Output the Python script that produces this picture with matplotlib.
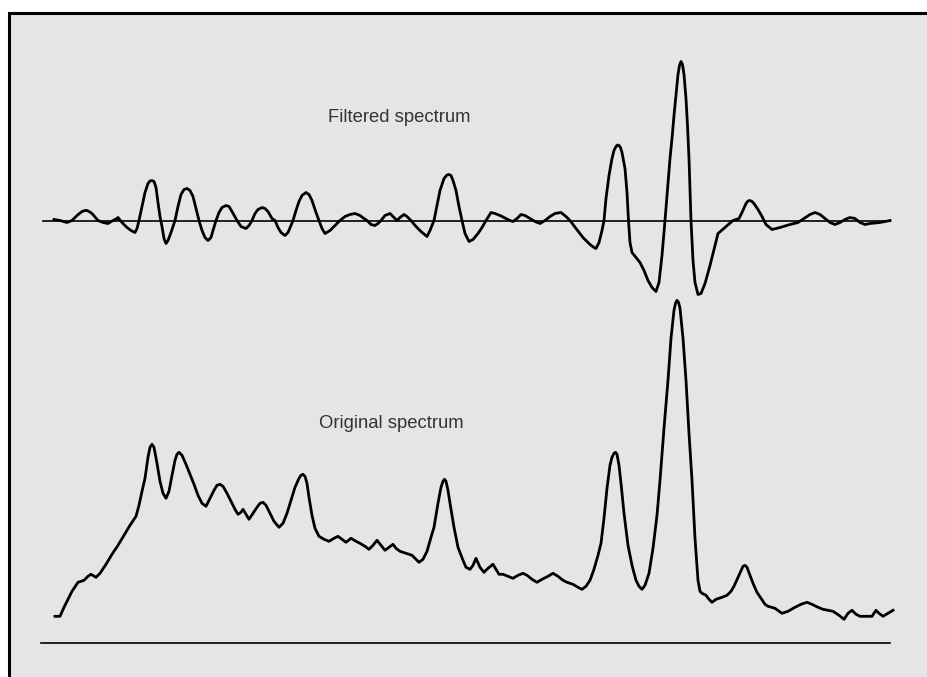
import matplotlib as mpl
mpl.use('agg')
import matplotlib.pyplot as plt
from matplotlib.patches import Rectangle

# spectra (channel, intensity relative to baseline)
filtered_x = [54, 60, 67, 72, 77, 82, 85, 87, 89, 92, 98, 103, 108, 113, 117, 118, 122, 127, 131, 135, 137, 139,
              142, 145, 148, 150, 152, 154, 156, 158, 160, 162, 164, 166, 168, 171, 175, 178, 181, 184, 187, 190, 193, 196,
              199, 202, 205, 208, 211, 213, 216, 219, 222, 226, 229, 232, 237, 241, 246, 249, 252, 255, 258, 262,
              265, 268, 272, 275, 278, 281, 285, 288, 291, 293, 296, 299, 302, 306, 309, 312, 316, 319, 322, 325,
              330, 335, 340, 345, 350, 355, 360, 364, 367, 371, 375, 378, 381, 385, 390, 393, 397, 400, 404, 407,
              411, 416, 421, 427, 430, 434, 437, 440, 444, 447, 449, 451, 453, 456, 459, 462, 465, 469, 473, 478, 482, 486,
              491, 495, 500, 506, 510, 513, 517, 521, 525, 530, 535, 540, 545, 550, 555, 561, 566, 570, 576, 583,
              590, 594, 596, 599, 602, 604, 606, 609, 612, 614, 616, 617.5, 619, 620.5, 622, 625, 627, 628.5, 630, 632, 636, 640, 644,
              648, 652, 656, 659, 662, 665, 668, 670, 672, 674, 676, 678, 679.5, 681, 682.5, 684, 686, 687.5, 689, 690, 691, 693,
              695, 698, 701, 705, 710, 714, 718, 726, 733, 739, 742, 746, 748, 750, 752, 754, 758, 762, 766, 772, 780, 790,
              798, 804, 810, 815, 820, 825, 830, 835, 840, 845, 850, 855, 860, 865, 870, 880, 890]
filtered_y = [1, 0, -2, 0, 5, 9, 10, 10, 9, 7, 0, -2, -3, 0, 2, 3, -2, -7, -10, -12, -8, 0,
              14, 28, 37, 39.5, 40, 39, 33, 18, 4, -6, -18, -23, -20, -12, 0, 14, 26, 31, 32, 30, 24, 12,
              0, -10, -17, -20, -17, -10, 0, 8, 13, 15, 14, 9, 0, -6, -8, -5, 0, 7, 11, 13,
              12, 9, 2, 0, -7, -12, -15, -12, -5, 0, 10, 19, 25, 28, 26, 20, 8, 0, -8, -13,
              -10, -5, 0, 4, 6, 7, 5, 2, 0, -4, -5, -3, 0, 5, 7, 4, 0, 3, 6, 4,
              0, -6, -11, -16, -10, 0, 15, 30, 42, 45.5, 46, 45, 40, 30, 14, 0, -13, -21, -19, -13, -7, 0,
              8, 7, 5, 2, 0, -1, 2, 6, 5, 2, -1, -3, 0, 4, 7, 8, 4, 0, -8, -17,
              -24, -27, -28, -22, -10, 0, 22, 45, 62, 70, 74, 75.5, 75, 73, 68, 52, 28, 0, -22, -32, -37, -42, -50,
              -60, -67, -71, -62, -35, 0, 38, 62, 82, 105, 125, 146, 155, 159, 156, 146, 122, 95, 62, 32, 0, -40,
              -62, -74, -73, -63, -45, -29, -13, -6, 0, 2, 8, 17, 19.5, 20, 19, 17, 11, 4, -4, -9, -7, -4,
              -2, 2, 6, 8, 6, 2, -2, -4, -2, 1, 3, 2, -2, -4, -3, -2, 0]

original_x = [55, 60, 64, 67, 72, 78, 84, 88, 91, 96, 100, 106, 112, 118, 124, 130, 136, 139, 142, 145,
              148, 150, 152, 154, 157, 160, 163, 166, 169, 172, 175, 177, 179, 182, 186, 190, 194, 198, 202, 206,
              210, 214, 217, 220, 223, 227, 231, 235, 238, 241, 243, 246, 249, 253, 257, 260, 263, 266, 270, 274,
              279, 283, 287, 291, 295, 299, 301, 303, 305, 307, 309, 312, 315, 319, 324, 329, 334, 338, 342, 346, 351, 356,
              360, 365, 369, 373, 377, 381, 385, 389, 393, 396, 400, 406, 412, 416, 419, 423, 427, 431, 434, 438,
              441, 443, 444.5, 446, 448, 450, 454, 458, 463, 466, 470, 473, 476, 480, 484, 488, 493, 496, 499, 503, 508, 513,
              518, 523, 527, 532, 537, 542, 548, 553, 558, 563, 567, 573, 578, 582, 586, 590, 594, 598, 601, 604,
              607, 610, 612, 614, 615.5, 617, 619, 621, 624, 628, 632, 636, 639, 642, 645, 649, 653, 657, 660, 664, 668, 671,
              674, 675.5, 677, 678.5, 680, 683, 686, 689, 692, 695, 698, 700, 702, 706, 709, 712, 716, 722, 727, 731, 734, 738,
              741, 743, 745, 747, 750, 753, 757, 761, 765, 768, 775, 782, 788, 795, 801, 807, 812, 818, 823, 833, 839,
              844, 848, 852, 856, 860, 872, 876, 879, 883, 888, 893]
original_y = [27, 27, 36, 42, 52, 61, 63, 67, 69, 66, 70, 79, 89, 98, 108, 118, 127, 138, 152, 165,
              186, 196, 199, 196, 180, 162, 150, 145, 152, 168, 183, 189, 191, 188, 179, 169, 159, 148, 140, 137,
              145, 153, 158, 159, 157, 150, 142, 134, 129, 131, 134, 129, 124, 130, 136, 140, 141, 138, 130, 122,
              116, 120, 130, 143, 156, 165, 168, 169, 167, 160, 146, 128, 115, 107, 104, 102, 105, 107, 104, 101, 105, 102,
              100, 97, 94, 98, 103, 98, 93, 96, 99, 95, 92, 90, 88, 84, 81, 84, 92, 106, 116, 140,
              156, 162, 164, 162, 153, 140, 116, 96, 83, 76, 74, 78, 85, 76, 71, 75, 79, 74, 69, 69, 67, 65,
              68, 70, 68, 64, 61, 64, 67, 70, 67, 63, 61, 59, 56, 54, 57, 63, 74, 88, 100, 125,
              155, 178, 186, 190, 191, 189, 178, 160, 130, 98, 78, 63, 57, 54, 58, 70, 95, 128, 163, 215, 263, 305,
              333, 340, 343, 341, 335, 305, 263, 210, 163, 105, 63, 52, 50, 48, 44, 41, 44, 46, 48, 52, 57, 66,
              73, 77, 78, 76, 68, 60, 51, 45, 39, 37, 35, 30, 32, 36, 39, 41, 39, 36, 34, 32, 28,
              24, 30, 33, 29, 27, 27, 33, 30, 27, 30, 33]

labels = ['Filtered spectrum', 'Original spectrum']

# where each trace sits on the page
filtered_base = 456.5
original_base = 33.7
base_start, base_end = [43, 41], [890, 890]

fig = plt.figure(figsize=(9.27, 6.77), dpi=100)
fig.patch.set_facecolor('white')
ax = fig.add_axes([0, 0, 1, 1])
ax.set_xlim(0, 927)
ax.set_ylim(0, 677)
ax.set_axis_off()

# grey panel with black frame (only left/top edges fall inside the picture)
ax.add_patch(Rectangle((9.5, -20), 1000, 663.8 + 20, facecolor='#e5e5e5',
                       edgecolor='black', lw=2.2, zorder=0))

# baselines
ax.plot([base_start[0], base_end[0]], [filtered_base] * 2, color='black', lw=1.2)
ax.plot([base_start[1], base_end[1]], [original_base] * 2, color='black', lw=1.2)

# spectra
ax.plot(filtered_x, [filtered_base + v for v in filtered_y], color='black', lw=2.0,
        solid_joinstyle='round')
ax.plot(original_x, [original_base + v for v in original_y], color='black', lw=2.0,
        solid_joinstyle='round')

ax.text(328, 677 - 117, labels[0], fontsize=13.3, va='center', ha='left',
        family='Liberation Sans', color='#333333')
ax.text(319, 677 - 423, labels[1], fontsize=13.3, va='center', ha='left',
        family='Liberation Sans', color='#333333')

fig.savefig('out.png', dpi=100)
